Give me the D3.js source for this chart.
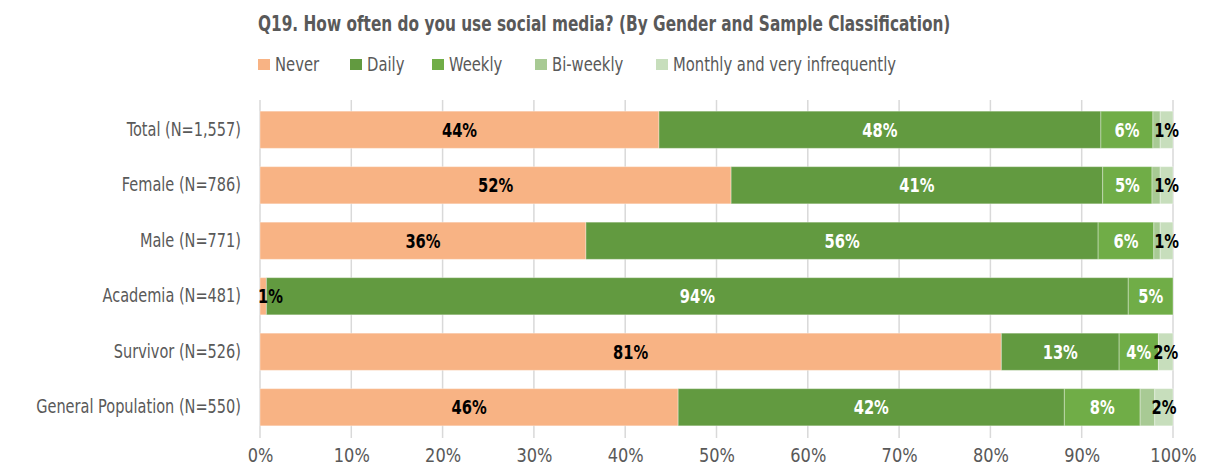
<!DOCTYPE html>
<html>
<head>
<meta charset="utf-8">
<script src="https://cdn.jsdelivr.net/npm/d3@7"></script>
<style>
  html, body { margin: 0; padding: 0; background: #ffffff; }
  svg { display: block; }
  text { font-family: "DejaVu Sans Condensed", "DejaVu Sans", sans-serif; }
</style>
</head>
<body>
<svg id="chart" width="1215" height="466"></svg>
<script>
// Survey groups, top to bottom
const groups = [
  "Total (N=1,557)",
  "Female (N=786)",
  "Male (N=771)",
  "Academia (N=481)",
  "Survivor (N=526)",
  "General Population (N=550)"
];

// Response categories (stack order, left to right)
const responses = ["Never", "Daily", "Weekly", "Bi-weekly", "Monthly and very infrequently"];

// Share of respondents (%) per group, one array per response
const never     = [43.7, 51.6, 35.7,  0.7, 81.2, 45.8];
const daily     = [48.4, 40.7, 56.1, 94.4, 12.9, 42.3];
const weekly    = [ 5.7,  5.4,  6.1,  4.9,  4.3,  8.3];
const biweekly  = [ 0.8,  0.9,  0.7,  0.0,  0.0,  1.6];
const monthly   = [ 1.4,  1.4,  1.4,  0.0,  1.6,  2.0];

const xTicks = [0, 10, 20, 30, 40, 50, 60, 70, 80, 90, 100];

const seriesValues = [never, daily, weekly, biweekly, monthly];
const colors = ["#F8B384", "#629A40", "#70AD47", "#A8CA94", "#C7DEBC"];
const labelColors = ["#000000", "#ffffff", "#ffffff", null, "#000000"];

const rows = groups.map((g, i) => {
  const r = { group: g };
  responses.forEach((k, j) => { r[k] = seriesValues[j][i]; });
  return r;
});

// Narrow the glyphs horizontally (about the text anchor) for a condensed look
function condense(sel, k) {
  sel.each(function () {
    const t = d3.select(this);
    const tx = +(t.attr("x") || 0), ty = +(t.attr("y") || 0);
    t.attr("x", 0).attr("y", 0)
     .attr("transform", `translate(${tx},${ty}) scale(${k},1)`);
  });
}

const svg = d3.select("#chart");
const margin = { left: 260, right: 42, top: 102, bottom: 31 };
const W = 1215, H = 466;

const x = d3.scaleLinear().domain([0, 100]).range([margin.left, W - margin.right]);
const y = d3.scaleBand().domain(groups).range([margin.top, H - margin.bottom]).paddingInner(0.33).paddingOuter(0.165);

const grey = "#595959";

// Title
svg.append("text")
  .attr("x", 258).attr("y", 31)
  .attr("font-size", 22).attr("font-weight", "bold")
  .attr("fill", grey)
  .text("Q19. How often do you use social media? (By Gender and Sample Classification)")
  .call(condense, 0.775);

// Legend
const legendX = [258, 350, 432, 535, 656];
const legend = svg.append("g");
responses.forEach((k, j) => {
  const g = legend.append("g").attr("transform", `translate(${legendX[j]},0)`);
  g.append("rect").attr("x", 0).attr("y", 59).attr("width", 12).attr("height", 11).attr("fill", colors[j]);
  g.append("text").attr("x", 17).attr("y", 71).attr("font-size", 19).attr("fill", grey).text(k)
    .call(condense, 0.865);
});

// Vertical gridlines
svg.append("g")
  .selectAll("line")
  .data(xTicks)
  .join("line")
  .attr("x1", d => x(d)).attr("x2", d => x(d))
  .attr("y1", margin.top - 2).attr("y2", H - margin.bottom + 3)
  .attr("stroke", "#d9d9d9").attr("stroke-width", 1.5);

// Stacked bars
const stack = d3.stack().keys(responses)(rows);
const layers = svg.append("g").selectAll("g")
  .data(stack)
  .join("g")
  .attr("fill", (d, i) => colors[i]);

layers.selectAll("rect")
  .data(d => d.map(s => ({ s, group: s.data.group })))
  .join("rect")
  .attr("x", d => x(d.s[0]))
  .attr("width", d => Math.max(0, x(d.s[1]) - x(d.s[0])))
  .attr("y", d => y(d.group))
  .attr("height", y.bandwidth())
  .attr("stroke", "#ffffff").attr("stroke-opacity", 0.35).attr("stroke-width", 1);

// Segment value labels (kept clear of the category labels on the left)
const labelK = 0.86;
stack.forEach((layer, j) => {
  if (!labelColors[j]) return;
  svg.append("g").selectAll("text")
    .data(layer.filter(s => s[1] - s[0] > 0))
    .join("text")
    .attr("text-anchor", "middle")
    .attr("dy", "0.36em")
    .attr("font-size", 19).attr("font-weight", "bold")
    .attr("fill", labelColors[j])
    .text(s => Math.round(s[1] - s[0]) + "%")
    .each(function (s) {
      const half = this.getComputedTextLength() * labelK / 2;
      const cx = Math.max((x(s[0]) + x(s[1])) / 2, x(0) - 2 + half);
      d3.select(this).attr("x", cx).attr("y", y(s.data.group) + y.bandwidth() / 2);
    })
    .call(condense, labelK);
});

// Category axis labels
const yAxis = svg.append("g")
  .attr("transform", `translate(${margin.left},0)`)
  .call(d3.axisLeft(y).tickSize(0).tickPadding(19));
yAxis.select(".domain").remove();
yAxis.selectAll("text").attr("font-size", 19).attr("fill", grey)
  .style("font-family", '"DejaVu Sans Condensed", "DejaVu Sans", sans-serif')
  .call(condense, 0.85);

// Percentage axis
const xAxis = svg.append("g")
  .attr("transform", `translate(0,${H - margin.bottom})`)
  .call(d3.axisBottom(x).tickValues(xTicks).tickFormat(d => d + "%").tickSize(0).tickPadding(13));
xAxis.select(".domain").remove();
xAxis.selectAll("text").attr("font-size", 20).attr("fill", grey)
  .style("font-family", '"DejaVu Sans Condensed", "DejaVu Sans", sans-serif')
  .call(condense, 0.9);
</script>
</body>
</html>
